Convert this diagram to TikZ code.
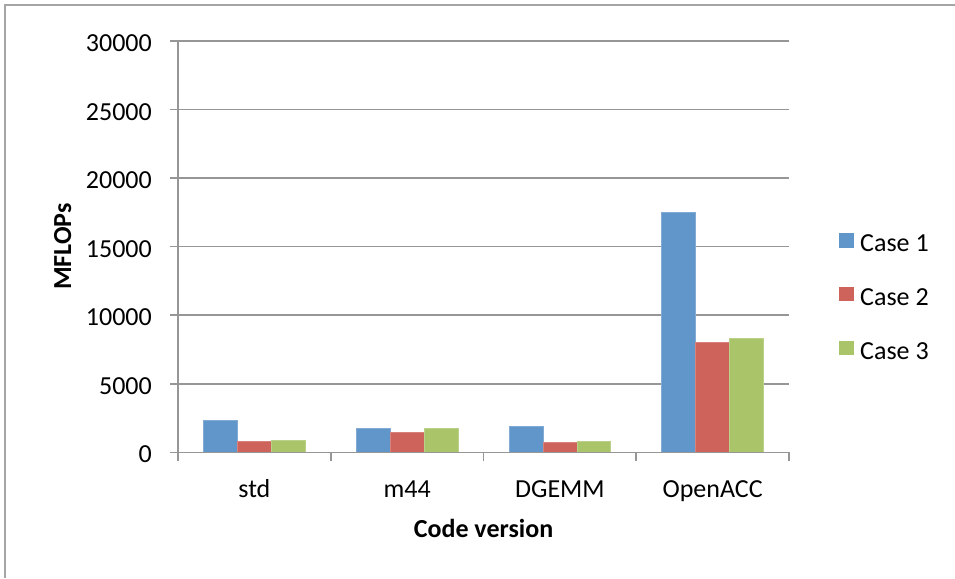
\documentclass[tikz,border=0pt]{standalone}
\usepackage{fontspec}
\setmainfont{Carlito}
\definecolor{cA}{RGB}{97,150,202}
\definecolor{cB}{RGB}{205,99,90}
\definecolor{cC}{RGB}{170,196,106}
\definecolor{gridc}{RGB}{150,150,150}
\definecolor{framec}{RGB}{165,165,165}
\begin{document}
\begin{tikzpicture}[x=1pt,y=-1pt,
  grid line/.style={draw=gridc,line width=1.6pt},
  ticklab/.style={font=\fontsize{26}{30}\selectfont,inner sep=0pt},
  axtitle/.style={font=\fontsize{26}{30}\selectfont\bfseries,inner sep=0pt},
  barA/.style={fill=cA,draw=cA!80!white,line width=0.6pt},
  barB/.style={fill=cB,draw=cB!80!white,line width=0.6pt},
  barC/.style={fill=cC,draw=cC!80!white,line width=0.6pt}]
\useasboundingbox (0,0) rectangle (955,578);
\fill[white] (0,0) rectangle (955,578);
% chart frame (left and top only)
\draw[framec,line width=1.6pt] (5,578) -- (5,5) -- (955,5);
% gridlines and y ticks
\foreach \k/\lab in {0/30000,1/25000,2/20000,3/15000,4/10000,5/5000} {
  \draw[grid line] (170,41+68.55*\k) -- (789,41+68.55*\k);
  \node[ticklab,anchor=base east] (yl\k) at (152,51.5+68.55*\k) {\lab};
}
\node[ticklab,anchor=base east] (yl6) at (152,51.5+68.55*6) {0};
% bars (values in hundreds of MFLOPs)
\foreach \i/\a/\b/\c in {0/23.36/8.03/8.47,1/17.23/14.60/17.74,2/19.20/7.30/8.03,3/175.18/80.00/83.43} {
  \pgfmathsetmacro{\xs}{178+152.75*\i+25.5}
  \pgfmathsetmacro{\ya}{452.3-\a*68.55/50}
  \pgfmathsetmacro{\yb}{452.3-\b*68.55/50}
  \pgfmathsetmacro{\yc}{452.3-\c*68.55/50}
  \draw[barA] (\xs,452.3) rectangle (\xs+33.9,\ya);
  \draw[barB] (\xs+33.9,452.3) rectangle (\xs+67.8,\yb);
  \draw[barC] (\xs+67.8,452.3) rectangle (\xs+101.7,\yc);
}
% axes
\draw[grid line] (170,452.3) -- (789,452.3);
\draw[grid line] (178,41) -- (178,452.3);
\foreach \i in {0,1,2,3,4} {
  \draw[grid line] (178+152.75*\i,452.3) -- (178+152.75*\i,461);
}
% category labels
\foreach \i/\lab in {0/std,1/m44,2/DGEMM,3/OpenACC} {
  \node[ticklab,anchor=base] (cat\i) at (178+152.75*\i+76.4,497) {\lab};
}
% axis titles
\node[axtitle,anchor=base] (xtitle) at (483.5,537) {Code version};
\node[axtitle,rotate=90,anchor=base] (ytitle) at (71,246.5) {MFLOPs};
% legend
\foreach \j/\col/\lab in {0/cA/Case 1,1/cB/Case 2,2/cC/Case 3} {
  \fill[\col] (839,233.3+53.7*\j) rectangle (853.7,247.7+53.7*\j);
  \node[ticklab,anchor=base west] (leg\j) at (860,251.7+53.7*\j) {\lab};
}
\end{tikzpicture}
\end{document}
